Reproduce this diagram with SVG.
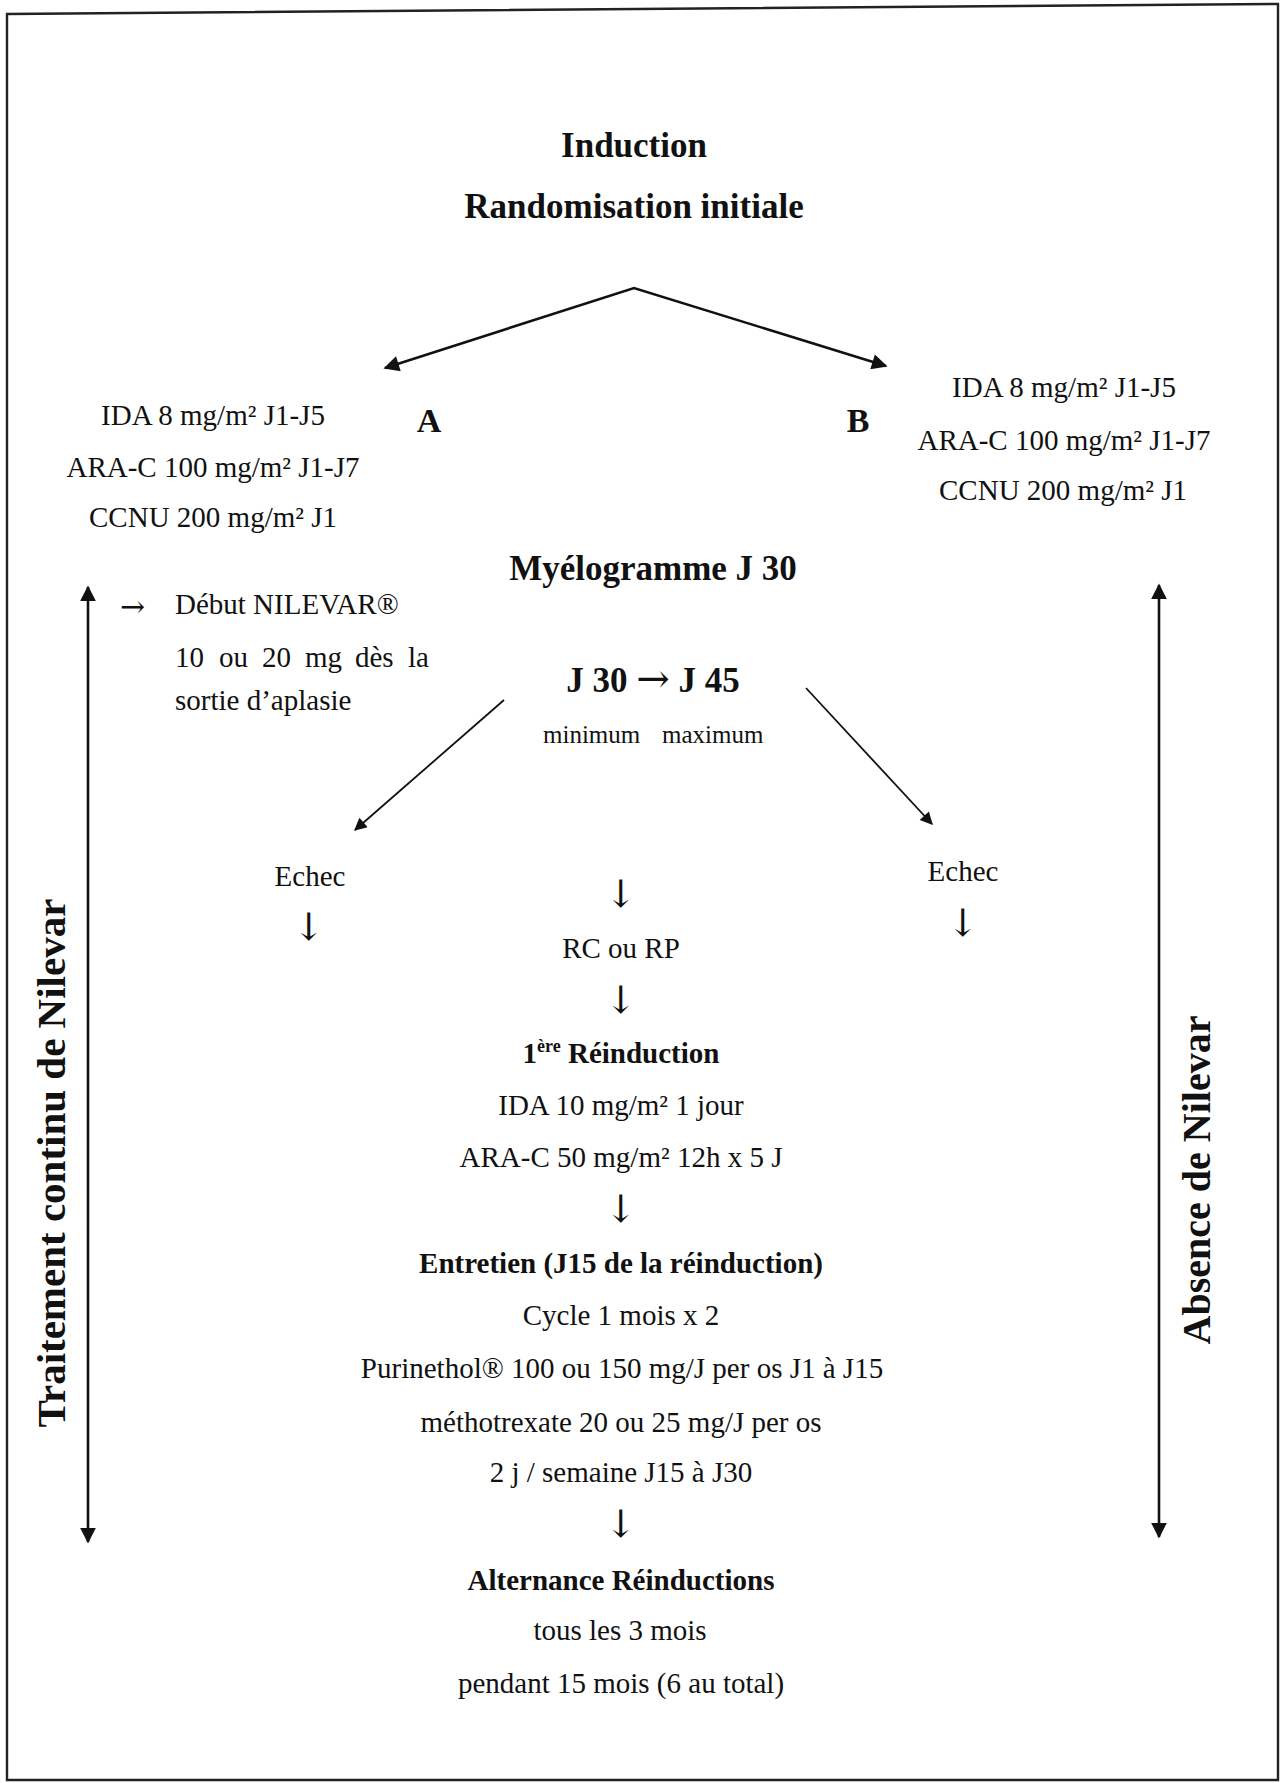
<svg xmlns="http://www.w3.org/2000/svg" width="1280" height="1783" viewBox="0 0 1280 1783">
<style>
.t{font-family:"Liberation Serif","Times New Roman",serif;font-size:29px;fill:#111;text-anchor:middle}
.s{text-anchor:start}
.b{font-weight:bold}
.h{font-size:35px;font-weight:bold}
.ab{font-size:34px;font-weight:bold}
.mm{font-size:25px}
.ar{font-family:"DejaVu Serif","DejaVu Sans",serif;font-size:38px;font-weight:normal}
.lg{font-size:41px;font-weight:bold}
.ld{font-size:40px;font-weight:bold}
.sup{font-size:18px}
.c{stroke:#111;fill:none}
.thick{stroke-width:2.6}
.thin{stroke-width:1.8}
</style>
<defs>
<marker id="ah" viewBox="0 0 10 10" refX="9" refY="5" markerWidth="7" markerHeight="6" markerUnits="strokeWidth" orient="auto-start-reverse">
<path d="M0,0 L10,5 L0,10 z" fill="#111"/>
</marker>
<marker id="ah2" viewBox="0 0 10 10" refX="9" refY="5" markerWidth="9" markerHeight="7" markerUnits="strokeWidth" orient="auto-start-reverse">
<path d="M0,0 L10,5 L0,10 z" fill="#111"/>
</marker>
</defs>
<rect width="1280" height="1783" fill="#fff"/>
<polygon points="7,14 1278,4 1278,1780 7,1780" fill="none" stroke="#222" stroke-width="2.4"/>

<g id="connectors">
<polyline class="c thick" points="385,368 634,288 886,366" marker-start="url(#ah)" marker-end="url(#ah)"/>
<line class="c thin" x1="504" y1="700" x2="355" y2="830" marker-end="url(#ah2)"/>
<line class="c thin" x1="806" y1="688" x2="932" y2="824" marker-end="url(#ah2)"/>
<line class="c thick" x1="88" y1="587" x2="88" y2="1542" marker-start="url(#ah)" marker-end="url(#ah)"/>
<line class="c thick" x1="1159" y1="585" x2="1159" y2="1537" marker-start="url(#ah)" marker-end="url(#ah)"/>
</g>

<g id="induction">
<text class="t h" x="634" y="157">Induction</text>
<text class="t h" x="634" y="218">Randomisation initiale</text>
</g>

<g id="bras-a">
<text class="t" x="213" y="425">IDA 8 mg/m² J1-J5</text>
<text class="t" x="213" y="477">ARA-C 100 mg/m² J1-J7</text>
<text class="t" x="213" y="527">CCNU 200 mg/m² J1</text>
<text class="t ab" x="429" y="432">A</text>
</g>

<g id="bras-b">
<text class="t ab" x="858" y="432">B</text>
<text class="t" x="1064" y="397">IDA 8 mg/m² J1-J5</text>
<text class="t" x="1064" y="450">ARA-C 100 mg/m² J1-J7</text>
<text class="t" x="1063" y="500">CCNU 200 mg/m² J1</text>
</g>

<g id="myelogramme">
<text class="t h" x="653" y="580">Myélogramme J 30</text>
<text class="t h" x="653" y="692">J 30 <tspan class="ar" style="font-size:40px">→</tspan> J 45</text>
<text class="t s mm" y="743"><tspan x="543">minimum</tspan><tspan x="662">maximum</tspan></text>
</g>

<g id="nilevar-debut">
<text class="t s ar" style="font-size:30px" x="120" y="617">→</text>
<text class="t s" x="175" y="614">Début NILEVAR®</text>
<text class="t s" y="667"><tspan x="175">10</tspan><tspan x="219">ou</tspan><tspan x="262">20</tspan><tspan x="305">mg</tspan><tspan x="355">dès</tspan><tspan x="408">la</tspan></text>
<text class="t s" x="175" y="710">sortie d’aplasie</text>
</g>

<g id="echec-a">
<text class="t" x="310" y="886">Echec</text>
<text class="t ar" x="309" y="940">↓</text>
</g>

<g id="echec-b">
<text class="t" x="963" y="881">Echec</text>
<text class="t ar" x="963" y="936">↓</text>
</g>

<g id="rc-rp">
<text class="t ar" x="621" y="907">↓</text>
<text class="t" x="621" y="958">RC ou RP</text>
<text class="t ar" x="621" y="1013">↓</text>
</g>

<g id="reinduction">
<text class="t b" x="621" y="1063">1<tspan class="sup" dy="-11">ère</tspan><tspan dy="11"> Réinduction</tspan></text>
<text class="t" x="621" y="1115">IDA 10 mg/m² 1 jour</text>
<text class="t" x="621" y="1167">ARA-C 50 mg/m² 12h x 5 J</text>
<text class="t ar" x="621" y="1222">↓</text>
</g>

<g id="entretien">
<text class="t b" x="621" y="1273">Entretien (J15 de la réinduction)</text>
<text class="t" x="621" y="1325">Cycle 1 mois x 2</text>
<text class="t" x="622" y="1378">Purinethol® 100 ou 150 mg/J per os J1 à J15</text>
<text class="t" x="621" y="1432">méthotrexate 20 ou 25 mg/J per os</text>
<text class="t" x="621" y="1482">2 j / semaine J15 à J30</text>
<text class="t ar" x="621" y="1537">↓</text>
</g>

<g id="alternance">
<text class="t b" x="621" y="1590">Alternance Réinductions</text>
<text class="t" x="620" y="1640">tous les 3 mois</text>
<text class="t" x="621" y="1693">pendant 15 mois (6 au total)</text>
</g>

<g id="label-gauche">
<text class="t lg" transform="translate(65,1163) rotate(-90)" x="0" y="0">Traitement continu de Nilevar</text>
</g>
<g id="label-droite">
<text class="t ld" transform="translate(1210,1180) rotate(-90)" x="0" y="0">Absence de Nilevar</text>
</g>
</svg>
